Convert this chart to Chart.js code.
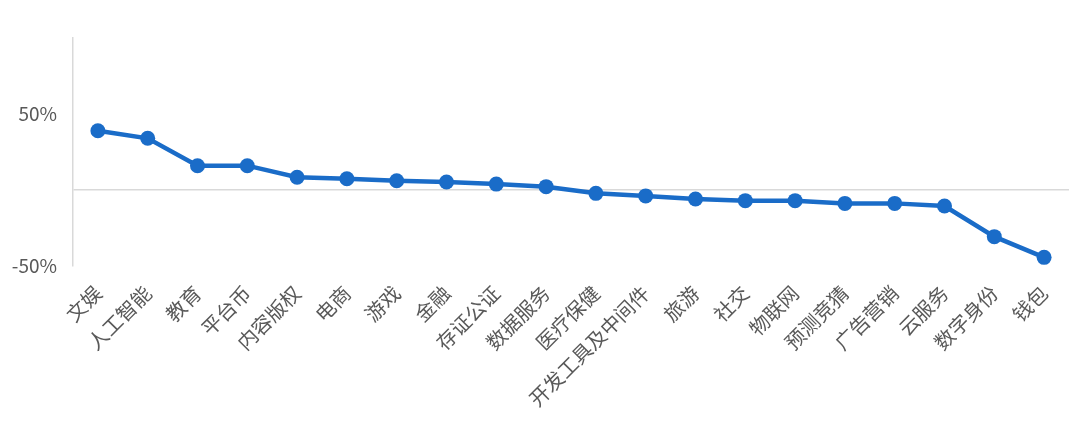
<!DOCTYPE html>
<html>
<head>
<meta charset="utf-8">
<script src="https://cdn.jsdelivr.net/npm/chart.js@4.4.0/dist/chart.umd.min.js"></script>
<style>
  html, body { margin: 0; padding: 0; background: #fff; }
  #wrap { width: 1080px; height: 432px; }
</style>
</head>
<body>
<div id="wrap"><canvas id="chart"></canvas></div>
<script>
const categories = ["文娱", "人工智能", "教育", "平台币", "内容版权", "电商", "游戏", "金融", "存证公证", "数据服务",
  "医疗保健", "开发工具及中间件", "旅游", "社交", "物联网", "预测竞猜", "广告营销", "云服务", "数字身份", "钱包"];
const changePct = [39, 34, 16, 16, 8.4, 7.4, 6.1, 5.3, 3.9, 2.2,
  -2.2, -3.9, -5.9, -7, -7, -8.8, -8.8, -10.5, -30.7, -44.3];
const yTickLabels = { "50": "50%", "-50": "-50%" };

const blue = "#1a6cc8";
const gray = "#595959";
const font = "'Noto Sans CJK SC', 'Noto Sans', sans-serif";

const ctx = document.getElementById("chart").getContext("2d");

new Chart(ctx, {
  type: "line",
  data: {
    labels: categories,
    datasets: [{
      data: changePct,
      borderColor: blue,
      backgroundColor: blue,
      borderWidth: 4.5,
      pointRadius: 7.5,
      pointHoverRadius: 7.5,
      pointBackgroundColor: blue,
      pointBorderWidth: 0,
      tension: 0
    }]
  },
  options: {
    responsive: true,
    maintainAspectRatio: false,
    animation: false,
    layout: { padding: { left: 0, top: 38, right: 11, bottom: 0 } },
    plugins: {
      legend: { display: false },
      tooltip: { enabled: false }
    },
    scales: {
      x: {
        offset: true,
        grid: { display: false, drawTicks: false },
        border: { display: false },
        ticks: {
          autoSkip: false,
          maxRotation: 45,
          minRotation: 45,
          padding: 15,
          color: gray,
          font: { family: font, size: 20 }
        },
        afterFit(scale) { scale.height = 166; }
      },
      y: {
        min: -50,
        max: 100,
        grid: {
          drawTicks: false,
          lineWidth: 1.5,
          color: (c) => (c.tick && c.tick.value === 0 ? "#d9d9d9" : "rgba(0,0,0,0)")
        },
        border: { display: true, color: "#d9d9d9", width: 1.5 },
        ticks: {
          stepSize: 50,
          padding: 16,
          color: gray,
          font: { family: font, size: 19 },
          callback: (v) => yTickLabels[String(v)] || ""
        },
        afterFit(scale) { scale.width = 73; }
      }
    }
  }
});
</script>
</body>
</html>
